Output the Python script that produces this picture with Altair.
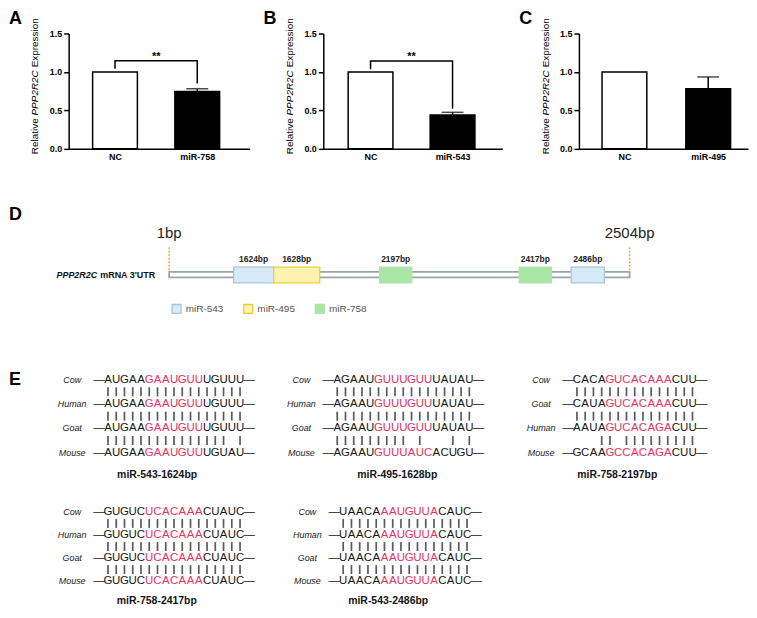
import altair as alt
import pandas as pd

FONT = "Liberation Sans"
RED = "#e6325f"
INK = "#141414"

# ---------------- Panels A-C : qPCR bars ----------------
panel_letters = ["A", "B", "C"]
control_label = "NC"
mirna_labels = ["miR-758", "miR-543", "miR-495"]
control_values = [1.0, 1.0, 1.0]
mirna_values = [0.745, 0.44, 0.78]
mirna_errors = [0.035, 0.035, 0.155]
sig_marks = ["**", "**", ""]
sig_bracket_y = [1.147, 1.143, 0]
sig_left_y = [1.04, 1.036, 0]
sig_right_y = [0.85, 0.52, 0]
expr_ticks = [0.0, 0.5, 1.0, 1.5]
ytitle_parts = ["Relative", "PPP2R2C", "Expression"]

# ---------------- Panel D : 3'UTR schematic ----------------
utr_gene = "PPP2R2C"
utr_rest = "mRNA 3'UTR"
utr_end_labels = ["1bp", "2504bp"]
utr_end_pos = [0, 100]                       # schematic track (% of drawn length)
site_labels = ["1624bp", "1628bp", "2197bp", "2417bp", "2486bp"]
site_mirna = ["miR-543", "miR-495", "miR-758", "miR-758", "miR-543"]
site_start = [14.0, 22.7, 45.7, 76.0, 87.3]
site_end = [22.7, 32.7, 52.7, 83.0, 94.5]
legend_mirna = ["miR-543", "miR-495", "miR-758"]
legend_fill = ["#d6ebf7", "#fcf3b0", "#a8e8a4"]
legend_stroke = ["#aac6d6", "#f1cc35", "#b5dcb3"]

# ---------------- Panel E : seed conservation ----------------
block_titles = ["miR-543-1624bp", "miR-495-1628bp", "miR-758-2197bp",
                "miR-758-2417bp", "miR-543-2486bp"]
block_species = [["Cow", "Human", "Goat", "Mouse"],
                 ["Cow", "Human", "Goat", "Mouse"],
                 ["Cow", "Goat", "Human", "Mouse"],
                 ["Cow", "Human", "Goat", "Mouse"],
                 ["Cow", "Human", "Goat", "Mouse"]]
block_sequences = [["AUGAAGAAUGUUUGUUU", "AUGAAGAAUGUUUGUUU", "AUGAAGAAUGUUUGUUU", "AUGAAGAAUGUUUGUAU"],
                   ["AGAAUGUUUGUUUAUAU", "AGAAUGUUUGUUUAUAU", "AGAAUGUUUGUUUAUAU", "AGAAUGUUUAUCACUGU"],
                   ["CACAGUCACAAACUU", "CAUAGUCACAAACUU", "AAUAGUCACAGACUU", "GCAAGCCACAGACUU"],
                   ["GUGUCUCACAAACUAUC", "GUGUCUCACAAACUAUC", "GUGUCUCACAAACUAUC", "GUGUCUCACAAACUAUC"],
                   ["UAACAAAUGUUACAUC", "UAACAAAUGUUACAUC", "UAACAAAUGUUACAUC", "UAACAAAUGUUACAUC"]]
block_seed = [(5, 7), (5, 7), (4, 8), (5, 7), (5, 7)]   # (first index, length) of red seed
block_links = [["|" * 17, "|" * 17, "|" * 15 + " |"],
               ["|" * 17, "|" * 17, "|||||||||" + " |   | |"],
               ["|" * 15, "|" * 15, "   || |||||||||"],
               ["|" * 17, "|" * 17, "|" * 17],
               ["|" * 16, "|" * 16, "|" * 16]]

# ---------------- layout (sizes / offsets only) ----------------
BAR_W = [182, 180, 170]
BAR_C0 = [44, 45, 43.3]        # px from axis to first bar centre
BAR_STEP = [87.5, 87.3, 89.5]  # px between bar centres
BAR_H = 116
LEFT = 60                      # every row's origin sits 60px right of the panel letter
D_W, D_H = 564, 36
D_PX = 4.63                    # px per track unit
D_TRACK0 = 101                 # px from origin to track start
CHAR_STEP = 8.3
SEQ_INSET = 39.5               # px from origin to first base (first column of blocks)
ROW_STEP_TOP, ROW_STEP_BOTTOM = 24.5, 23.2
caption_dx = [2.8, -6, -17.5, 2.5, -17]
caption_offset = [11.5, 11.5, 11.5, 9.5, 9.5]


def one(**kw):
    return pd.DataFrame({k: [v] for k, v in kw.items()})


def bar_panel(i):
    mir = mirna_labels[i]
    df = pd.DataFrame({"xi": [0, 1], "group": [control_label, mir],
                       "value": [control_values[i], mirna_values[i]],
                       "err": [0.0, mirna_errors[i]]})
    df["top"] = df["value"] + df["err"]
    lo = -BAR_C0[i] / BAR_STEP[i]
    hi = (BAR_W[i] - BAR_C0[i]) / BAR_STEP[i]
    xs = alt.Scale(domain=[lo, hi], nice=False, zero=False)
    ys = alt.Scale(domain=[0, 1.5], nice=False, zero=True)
    X = alt.X("xi:Q", scale=xs, axis=alt.Axis(
        title=None, values=[0, 1], labelFlush=False,
        labelExpr=f"datum.value == 0 ? '{control_label}' : '{mir}'",
        ticks=False, grid=False, domainColor="black", domainWidth=1.5,
        labelFont=FONT, labelFontWeight="bold", labelFontSize=9,
        labelColor="black", labelPadding=4, labelAngle=0))
    Y = alt.Y("value:Q", scale=ys, axis=alt.Axis(
        title=None, values=expr_ticks, format=".1f", grid=False, labelOverlap=False,
        domainColor="black", domainWidth=1.5, tickColor="black",
        tickWidth=1.5, tickSize=5, labelFont=FONT, labelFontWeight="bold",
        labelFontSize=9, labelColor="black", labelPadding=2))
    bars = alt.Chart(df).mark_bar(orient="vertical", size=45, stroke="black", strokeWidth=1.5).encode(
        x=X, y=Y, fill=alt.condition("datum.xi == 0", alt.value("white"), alt.value("black")))
    err_df = df[df["err"] > 0]
    err_rule = alt.Chart(err_df).mark_rule(color="black", strokeWidth=1.5).encode(x=X, y=Y, y2="top:Q")
    cap_df = pd.DataFrame({"xi": err_df["xi"].tolist(), "value": err_df["top"].tolist()})
    err_cap = alt.Chart(cap_df).mark_tick(orient="horizontal", size=22, thickness=1.5, color="black").encode(
        x=X, y=Y)
    layers = [bars, err_rule, err_cap]
    if sig_marks[i]:
        br = pd.DataFrame({"xi": [0, 0, 1, 1],
                           "value": [sig_left_y[i], sig_bracket_y[i], sig_bracket_y[i], sig_right_y[i]],
                           "k": [0, 1, 2, 3]})
        layers.append(alt.Chart(br).mark_line(color="black", strokeWidth=1.5).encode(x=X, y=Y, order="k:Q"))
        layers.append(alt.Chart(one(xi=0.5, value=sig_bracket_y[i], t=sig_marks[i])).mark_text(
            font=FONT, fontWeight="bold", fontSize=11, baseline="alphabetic", dy=-1, color="black").encode(
            x=X, y=Y, text="t:N"))
    layers.append(alt.Chart(one(t=panel_letters[i])).mark_text(
        font=FONT, fontWeight="bold", fontSize=18, align="left", baseline="alphabetic", color="black").encode(
        x=alt.value(-LEFT), y=alt.value(-9.5), text="t:N"))
    c = 53
    centers = [c + 50.35, c + 6.7, c - 43.65]
    styles = ["normal", "italic", "normal"]
    for part, yc, st in zip(ytitle_parts, centers, styles):
        layers.append(alt.Chart(one(t=part)).mark_text(
            font=FONT, fontSize=10, fontStyle=st, angle=270, align="center", baseline="middle", color="black").encode(
            x=alt.value(-33.5), y=alt.value(yc), text="t:N"))
    return alt.layer(*layers).properties(width=BAR_W[i], height=BAR_H)


def panel_d():
    lo = -D_TRACK0 / D_PX
    hi = lo + D_W / D_PX
    xD = alt.Scale(domain=[lo, hi], nice=False, zero=False)
    XS = alt.X("start:Q", scale=xD, axis=None)
    FILL = alt.Fill("mirna:N", scale=alt.Scale(domain=legend_mirna, range=legend_fill), legend=None)
    STROKE = alt.Stroke("mirna:N", scale=alt.Scale(domain=legend_mirna, range=legend_stroke), legend=None)
    track = alt.Chart(one(start=utr_end_pos[0], end=utr_end_pos[1])).mark_rect(
        fill="white", stroke="#9ba4a6", strokeWidth=1.8).encode(x=XS, x2="end:Q", y=alt.value(24.7), y2=alt.value(30.3))
    sites = pd.DataFrame({"label": site_labels, "mirna": site_mirna, "start": site_start, "end": site_end})
    sites["mid"] = (sites["start"] + sites["end"]) / 2
    boxes = alt.Chart(sites).mark_rect(strokeWidth=1.3).encode(
        x=XS, x2="end:Q", y=alt.value(20), y2=alt.value(35.7), fill=FILL, stroke=STROKE)
    site_text = alt.Chart(sites).mark_text(font=FONT, fontSize=8.5, fontWeight="bold", color="#222", baseline="middle").encode(
        x=alt.X("mid:Q", scale=xD, axis=None), y=alt.value(12), text="label:N")
    ends = pd.DataFrame({"start": utr_end_pos, "label": utr_end_labels})
    end_rules = alt.Chart(ends).mark_rule(color="#f0a04a", strokeWidth=1.5, strokeDash=[2, 1.5]).encode(
        x=XS, y=alt.value(0), y2=alt.value(25))
    end_text = alt.Chart(ends).mark_text(font=FONT, fontSize=15, color="#222", baseline="middle").encode(
        x=XS, y=alt.value(-14), text="label:N")
    letter = alt.Chart(one(t="D")).mark_text(font=FONT, fontWeight="bold", fontSize=18, align="left",
                                             baseline="middle", color="black").encode(
        x=alt.value(-LEFT), y=alt.value(-32.5), text="t:N")
    name_rest = alt.Chart(one(t=utr_rest)).mark_text(font=FONT, fontWeight="bold", fontSize=9, align="right",
                                                     baseline="middle", color="#111").encode(
        x=alt.value(D_TRACK0 - 14), y=alt.value(28), text="t:N")
    name_gene = alt.Chart(one(t=utr_gene)).mark_text(font=FONT, fontWeight="bold", fontStyle="italic", fontSize=9,
                                                     align="right", baseline="middle", color="#111").encode(
        x=alt.value(D_TRACK0 - 72.3), y=alt.value(28), text="t:N")
    leg_df = pd.DataFrame({"mirna": legend_mirna, "k": list(range(len(legend_mirna)))})
    LX = alt.X("k:Q", scale=alt.Scale(domain=[0, 2], range=[D_TRACK0 + 7.5, D_TRACK0 + 151.5]), axis=None)
    leg_sq = alt.Chart(leg_df).mark_square(size=81, opacity=1, strokeWidth=1.3, filled=True).encode(
        x=LX, y=alt.value(62), fill=FILL, stroke=STROKE)
    leg_tx = alt.Chart(leg_df).mark_text(font=FONT, fontSize=10, color="#555", align="left", baseline="middle",
                                         dx=9.2).encode(x=LX, y=alt.value(62), text="mirna:N")
    return alt.layer(end_rules, track, boxes, site_text, end_text, letter, name_rest, name_gene,
                     leg_sq, leg_tx).resolve_scale(x="independent").properties(width=D_W, height=D_H)


def block_chart(b, first, letter_opacity, row_step):
    seqs = block_sequences[b]
    n = len(seqs[0])
    s0, sl = block_seed[b]
    inset = SEQ_INSET if first else 0
    chars = pd.DataFrame([{"row": r, "pos": p, "ch": c, "hl": s0 <= p < s0 + sl}
                          for r, s in enumerate(seqs) for p, c in enumerate(s)])
    dashes = pd.DataFrame([{"row": r, "pos": p, "ch": "\u2014"} for r in range(len(seqs))
                           for p in (-1.1, n + 0.1)])
    links = pd.DataFrame([{"row": r + 0.5, "pos": p} for r, pat in enumerate(block_links[b])
                          for p, c in enumerate(pat) if c == "|"])
    names = pd.DataFrame({"row": list(range(len(seqs))), "name": block_species[b]})
    X = alt.X("pos:Q", scale=alt.Scale(domain=[-inset / CHAR_STEP, n - 1], nice=False, zero=False), axis=None)
    Y = alt.Y("row:Q", scale=alt.Scale(domain=[0, 3], nice=False, zero=False, reverse=True), axis=None)
    seq = alt.Chart(chars).mark_text(font=FONT, fontSize=11.5, baseline="middle", align="center").encode(
        x=X, y=Y, text="ch:N", color=alt.condition("datum.hl", alt.value(RED), alt.value(INK)))
    dash = alt.Chart(dashes).mark_text(font=FONT, fontSize=11.5, baseline="middle", align="center", color=INK).encode(
        x=X, y=Y, text="ch:N")
    link = alt.Chart(links).mark_tick(orient="vertical", size=9, thickness=1.7, color=INK).encode(x=X, y=Y)
    name = alt.Chart(names).mark_text(font=FONT, fontSize=9, fontStyle="italic", align="center",
                                      baseline="middle", color="#222").encode(
        x=alt.value(inset - 36), y=Y, text="name:N")
    letter = alt.Chart(one(t="E")).mark_text(font=FONT, fontWeight="bold", fontSize=18, align="left",
                                             baseline="middle", color="black", opacity=letter_opacity).encode(
        x=alt.value(-LEFT if first else 0), y=alt.value(0), text="t:N")
    title = alt.TitleParams(block_titles[b], orient="bottom", anchor="middle", frame="group", dx=caption_dx[b],
                            offset=caption_offset[b], font=FONT, fontSize=10.5, fontWeight="bold", color=INK)
    return alt.layer(seq, dash, link, name, letter).properties(
        width=(n - 1) * CHAR_STEP + inset, height=3 * row_step, title=title)


row1 = alt.hconcat(alt.hconcat(bar_panel(0), bar_panel(1), spacing=12), bar_panel(2), spacing=15)
row3 = alt.hconcat(alt.hconcat(block_chart(0, True, 1, ROW_STEP_TOP), block_chart(1, False, 0, ROW_STEP_TOP), spacing=30),
                   block_chart(2, False, 0, ROW_STEP_TOP), spacing=40)
row4 = alt.hconcat(block_chart(3, True, 0, ROW_STEP_BOTTOM), block_chart(4, False, 0, ROW_STEP_BOTTOM), spacing=36)

lower = alt.vconcat(row3, row4, spacing=21)
middle = alt.vconcat(panel_d(), lower, spacing=53)
chart = alt.vconcat(row1, middle, spacing=43).properties(
    padding=0, background="white").configure(font=FONT).configure_view(stroke="transparent")

chart.save("out.html", embed_options={"renderer": "svg", "actions": False})
